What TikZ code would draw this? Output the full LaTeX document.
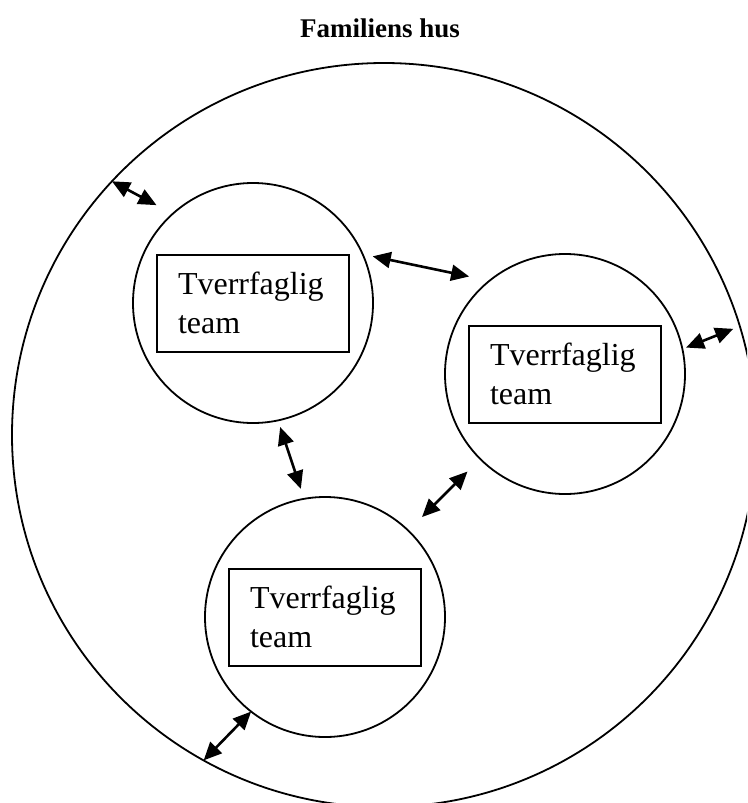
\documentclass[tikz,border=0pt]{standalone}
\usepackage{fontspec}
\setmainfont{Liberation Serif}
\usetikzlibrary{arrows.meta}

\begin{document}
\begin{tikzpicture}[x=1pt, y=1pt]
  \tikzset{
    ring/.style={draw, circle, line width=1.8pt, inner sep=0pt, outer sep=0pt},
    teambox/.style={draw, line width=2pt, minimum width=192pt, minimum height=97pt,
      text width=150pt, inner xsep=21pt, align=left, font=\fontsize{32}{38.5}\selectfont},
    link/.style={{Triangle[length=18pt,width=16pt]}-{Triangle[length=18pt,width=16pt]}, line width=2.6pt}
  }
  \clip (0,0) rectangle (747,-803);
  \node[anchor=base, font=\fontsize{27}{32}\selectfont\bfseries] (title) at (380,-37) {Familiens hus};
  % the house and its three teams
  \node[ring, minimum size=744pt] (hus) at (384,-435) {};
  \node[ring, minimum size=240pt] (c1) at (253,-303) {};
  \node[ring, minimum size=240pt] (c2) at (565,-374) {};
  \node[ring, minimum size=240pt] (c3) at (325,-617) {};
  \node[teambox] (t1) at (c1) {Tverrfaglig\\team};
  \node[teambox] (t2) at (c2) {Tverrfaglig\\team};
  \node[teambox] (t3) at (c3) {Tverrfaglig\\team};
  % links
  \draw[link, shorten >=18.4pt] (hus.137.3) -- (c1.132.5);
  \draw[link, shorten <=10.3pt, shorten >=20.8pt] (c1.24.4) -- (c2.129.7);
  \draw[link, shorten <=4pt, shorten >=7pt] (c2.12.7) -- (hus.17.25);
  \draw[link, shorten <=7pt, shorten >=10.5pt] (c1.282) -- (c3.100.5);
  \draw[link, shorten <=17.9pt, shorten >=19.3pt] (c2.225.4) -- (c3.46.1);
  \draw[link] (c3.232.5) -- (hus.241);
\end{tikzpicture}
\end{document}
